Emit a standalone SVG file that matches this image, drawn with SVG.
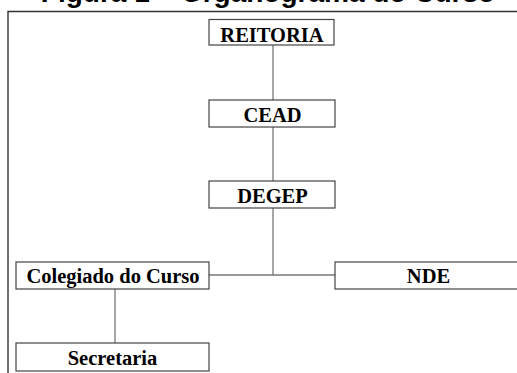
<svg xmlns="http://www.w3.org/2000/svg" width="517" height="373" viewBox="0 0 517 373">
<style>
.box{fill:#fff;stroke:#444;stroke-width:1.2}
.lbl{font-family:"Liberation Serif","Times New Roman",serif;font-weight:bold;font-size:20.5px;fill:#000;text-anchor:middle}
.con{stroke:#777;stroke-width:1.3;fill:none}
.frame{stroke:#333;stroke-width:1.4;fill:none}
.title{font-family:"Liberation Sans",Arial,sans-serif;font-weight:bold;font-size:28px;fill:#000;text-anchor:middle}
</style>
<rect width="517" height="373" fill="#fff"/>
<text class="title" x="268" y="1.5">Figura 1 – Organograma do Curso</text>
<path class="frame" d="M8,380 V11.5 H530"/>
<g id="connectors">
<line class="con" x1="273" y1="45" x2="273" y2="100"/>
<line class="con" x1="273" y1="127" x2="273" y2="181"/>
<line class="con" x1="273" y1="208" x2="273" y2="275"/>
<line class="con" x1="209" y1="275" x2="335" y2="275"/>
<line class="con" x1="115" y1="289" x2="115" y2="343"/>
</g>
<g id="reitoria"><rect class="box" x="209" y="19.5" width="125" height="25.5"/><text class="lbl" x="272" y="41.5">REITORIA</text></g>
<g id="cead"><rect class="box" x="209" y="100" width="126" height="27"/><text class="lbl" x="272.5" y="122">CEAD</text></g>
<g id="degep"><rect class="box" x="209" y="181" width="126" height="27"/><text class="lbl" x="272.5" y="203">DEGEP</text></g>
<g id="colegiado"><rect class="box" x="16" y="262" width="193" height="27"/><text class="lbl" x="113" y="283">Colegiado do Curso</text></g>
<g id="nde"><rect class="box" x="335" y="262" width="188" height="27"/><text class="lbl" x="428.5" y="283">NDE</text></g>
<g id="secretaria"><rect class="box" x="16" y="343" width="193" height="28"/><text class="lbl" x="112.5" y="365">Secretaria</text></g>
</svg>
